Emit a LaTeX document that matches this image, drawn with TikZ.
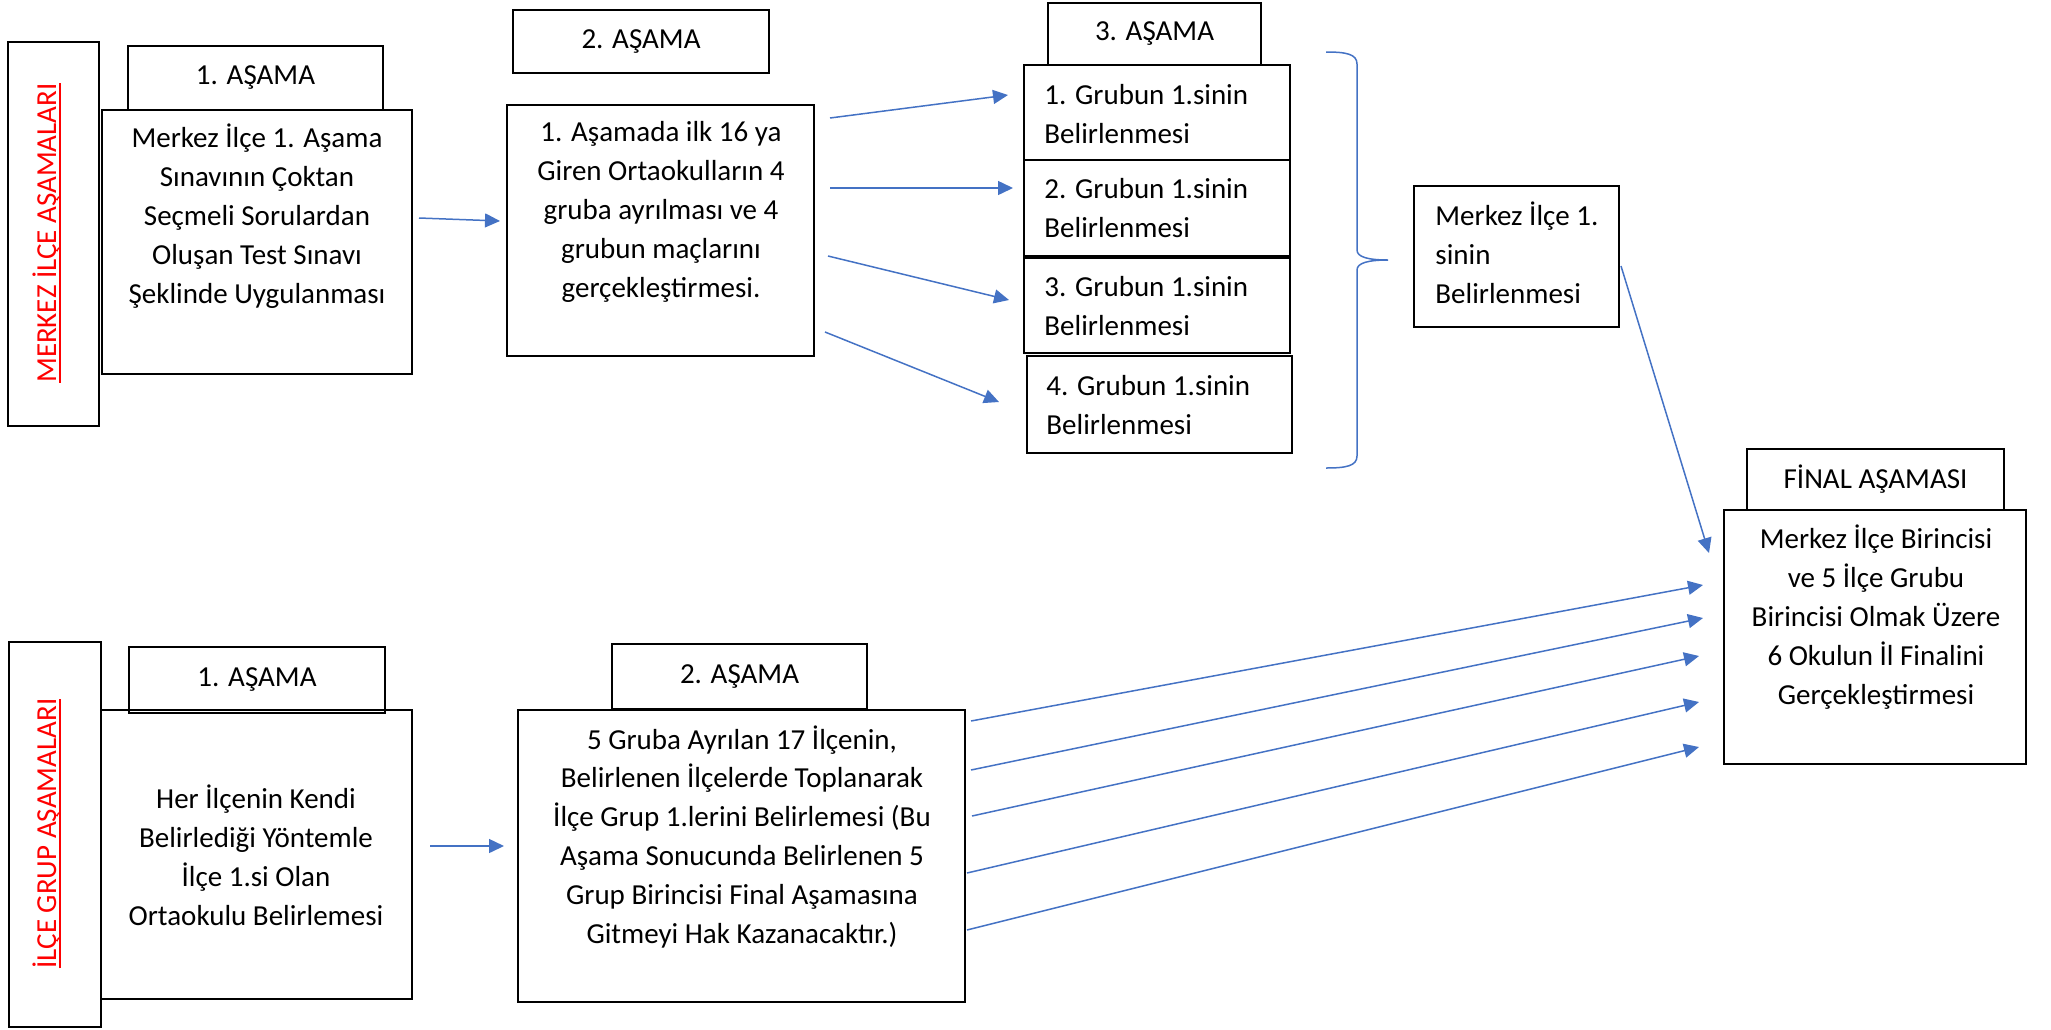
\documentclass[tikz,border=0pt]{standalone}
\usepackage{fontspec}
\setmainfont{Carlito}
\usetikzlibrary{calc,arrows.meta}
\definecolor{wblue}{HTML}{4472C4}
\newcommand\bx[7][]{\node[box,txt,minimum width={(#5-#3)*0.5pt},minimum height={(#6-#4)*0.5pt},#1] (#2) at ({(#3+#5)/2},{(#4+#6)/2}) {#7};}
\newcommand\myul[1]{\setbox0\hbox{#1}\rlap{\rule[-2.5pt]{\wd0}{1pt}}\box0}
\begin{document}
\begin{tikzpicture}[x=0.5pt,y=-0.5pt,
  box/.style={draw=black, line width=1pt, inner sep=0pt, outer sep=0pt},
  txt/.style={inner sep=0pt, font=\fontsize{14.5pt}{19.45pt}\selectfont},
  arr/.style={wblue, line width=0.75pt, -{Triangle[length=7.5pt,width=7pt]}},
  lab/.style={inner sep=0pt, rotate=90, anchor=base, text=red, font=\fontsize{14.5pt}{19.45pt}\selectfont}]
\useasboundingbox (0,0) rectangle (2051,1029);

% --- Merkez ilce stages ---
\bx{labA}{8}{42}{99}{426}{}
\node[lab] (lA) at (56,233) {\myul{MERKEZ İLÇE AŞAMALARI}};
\bx{h1a}{128}{46}{383}{110}{1. AŞAMA}
\bx{b1a}{102}{110}{412}{374}{}
\node[txt,align=center] (t1a) at (257,217.5) {\strut Merkez İlçe 1. Aşama\\Sınavının Çoktan\\Seçmeli Sorulardan\\Oluşan Test Sınavı\\Şeklinde Uygulanması\strut};
\bx{h2a}{513}{10}{769}{73}{2. AŞAMA}
\bx{b2a}{507}{105}{814}{356}{}
\node[txt,align=center] (t2a) at (661,212) {\strut 1. Aşamada ilk 16 ya\\Giren Ortaokulların 4\\gruba ayrılması ve 4\\grubun maçlarını\\gerçekleştirmesi.\strut};
\bx{h3a}{1048}{3}{1261}{65}{3. AŞAMA}
\bx{g1}{1024}{65}{1290}{160}{}
\bx{g2}{1024}{160}{1290}{256}{}
\bx{g3}{1024}{258}{1290}{353}{}
\bx{g4}{1027}{356}{1292}{453}{}
\node[txt,align=left,anchor=west] (tg1) at (1044,116) {\strut 1. Grubun 1.sinin\\Belirlenmesi\strut};
\node[txt,align=left,anchor=west] (tg2) at (1044,210) {\strut 2. Grubun 1.sinin\\Belirlenmesi\strut};
\node[txt,align=left,anchor=west] (tg3) at (1044,308) {\strut 3. Grubun 1.sinin\\Belirlenmesi\strut};
\node[txt,align=left,anchor=west] (tg4) at (1046,407) {\strut 4. Grubun 1.sinin\\Belirlenmesi\strut};
\bx{mk}{1414}{186}{1619}{327}{}
\node[txt,align=left,anchor=west] (tmk) at (1435,256.5) {\strut Merkez İlçe 1.\\sinin\\Belirlenmesi\strut};

% brace
\draw[wblue, line width=0.75pt] (1326,52) .. controls (1346,52) and (1357,54) .. (1357,64)
  -- (1357,250) .. controls (1357,257) and (1368,260) .. (1388,260)
  .. controls (1368,260) and (1357,263) .. (1357,270)
  -- (1357,456) .. controls (1357,466) and (1346,468) .. (1326,468);

% --- Final ---
\bx{hf}{1747}{449}{2004}{510}{FİNAL AŞAMASI}
\bx{bf}{1724}{510}{2026}{764}{}
\node[txt,align=center] (tf) at (1876,618.5) {\strut Merkez İlçe Birincisi\\ve 5 İlçe Grubu\\Birincisi Olmak Üzere\\6 Okulun İl Finalini\\Gerçekleştirmesi\strut};

% --- Ilce grup stages ---
\bx{labB}{9}{642}{101}{1027}{}
\node[lab] (lB) at (56,833.5) {\myul{İLÇE GRUP AŞAMALARI}};
\bx{h1b}{129}{647}{385}{713}{1. AŞAMA}
\bx{b1b}{101}{710}{412}{999}{}
\node[txt,align=center] (t1b) at (256,859.5) {\strut Her İlçenin Kendi\\Belirlediği Yöntemle\\İlçe 1.si Olan\\Ortaokulu Belirlemesi\strut};
\bx{h2b}{612}{644}{867}{709}{2. AŞAMA}
\bx{b2b}{518}{710}{965}{1002}{}
\node[txt,align=center] (t2b) at (742,838.5) {\strut 5 Gruba Ayrılan 17 İlçenin,\\Belirlenen İlçelerde Toplanarak\\İlçe Grup 1.lerini Belirlemesi (Bu\\Aşama Sonucunda Belirlenen 5\\Grup Birincisi Final Aşamasına\\Gitmeyi Hak Kazanacaktır.)\strut};

% --- arrows ---
\draw[arr] ($(b1a.east)+(7,-24)$) -- ($(b2a.west)+(-7,-9.5)$);
\draw[arr] ($(b2a.east)+(16,-112.5)$) -- ($(g1.west)+(-16,-17.5)$);
\draw[arr] ($(b2a.east)+(16,-42.5)$) -- ($(g2.west)+(-11,-20)$);
\draw[arr] ($(b2a.east)+(14,25.5)$) -- ($(g3.west)+(-15,-5.5)$);
\draw[arr] ($(b2a.east)+(11,101.5)$) -- ($(g4.west)+(-28,-2.5)$);
\draw[arr] ($(mk.east)+(2,9.5)$) -- ($(bf.west)+(-15,-84)$);
\draw[arr] ($(b1b.east)+(18,-8.5)$) -- ($(b2b.west)+(-14,-10)$);
\draw[arr] ($(b2b.east)+(6,-135)$) -- ($(bf.west)+(-21,-52)$);
\draw[arr] ($(b2b.east)+(6,-86)$) -- ($(bf.west)+(-21,-19)$);
\draw[arr] ($(b2b.east)+(7,-40)$) -- ($(bf.west)+(-25,19)$);
\draw[arr] ($(b2b.east)+(2,17)$) -- ($(bf.west)+(-25,65)$);
\draw[arr] ($(b2b.east)+(2,74)$) -- ($(bf.west)+(-25,110)$);
\end{tikzpicture}
\end{document}
